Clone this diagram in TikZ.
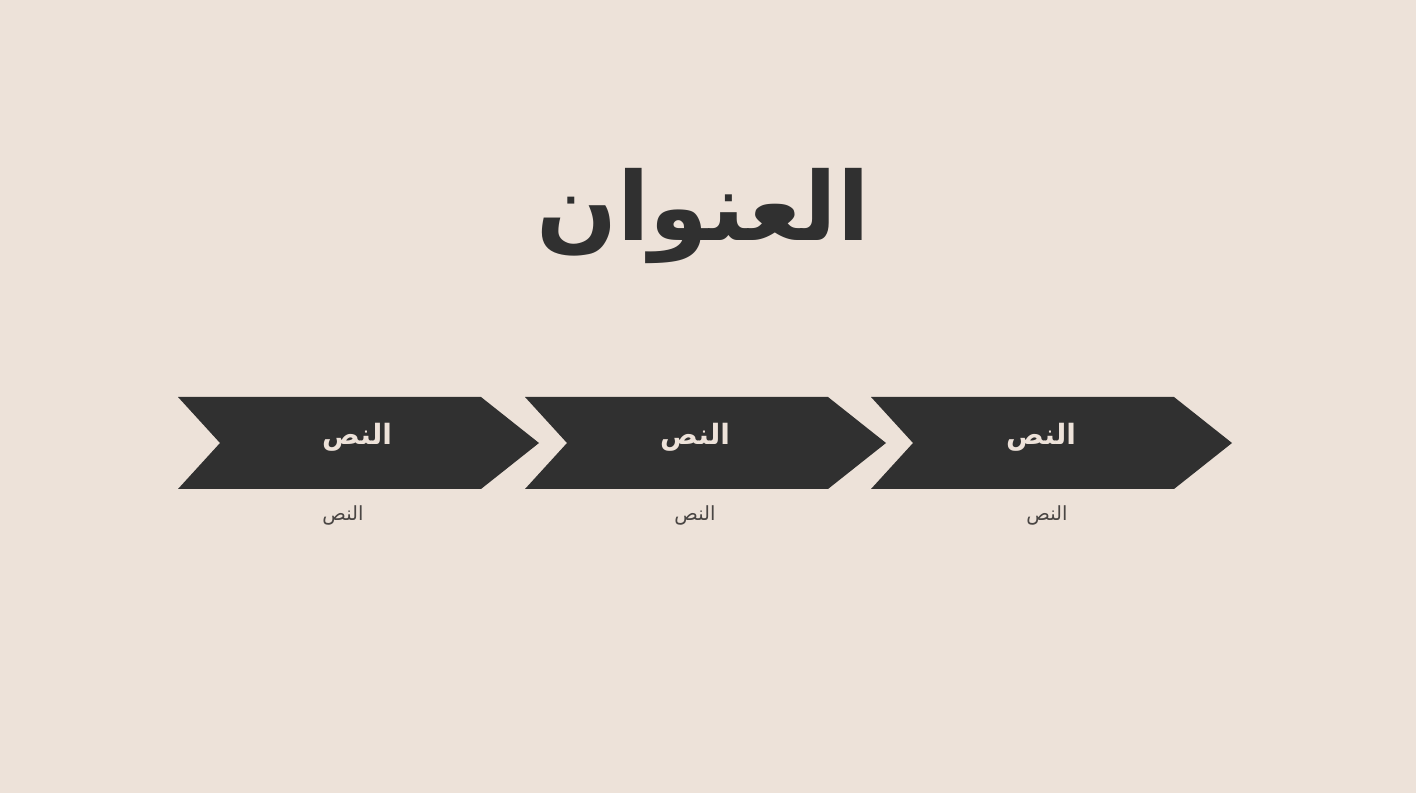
\documentclass[tikz,border=0pt]{standalone}
\usepackage{fontspec}
\TeXXeTstate=1
\newfontfamily\arabicfont[Script=Arabic]{DejaVu Sans}
\definecolor{bg}{HTML}{EDE2D9}
\definecolor{dark}{HTML}{303030}
\definecolor{subtext}{HTML}{4A4644}
\begin{document}
\begin{tikzpicture}[x=1pt,y=1pt,
  chev/.style={fill=dark,draw=none},
  headtxt/.style={text=bg,font=\arabicfont\bfseries\fontsize{28}{34}\selectfont,inner sep=0pt,anchor=base},
  subtxt/.style={text=subtext,font=\arabicfont\fontsize{19.5}{24}\selectfont,inner sep=0pt,anchor=base}]
\fill[bg] (0,0) rectangle (1416,793);
\useasboundingbox (0,0) rectangle (1416,793);
\node[text=dark,font=\arabicfont\bfseries\fontsize{95}{110}\selectfont,inner sep=0pt,anchor=base] (title) at (703,793-241) {\beginR العنوان\endR};
\foreach \i/\x/\hx/\sx in {1/178/357/343,2/525/695/695,3/871/1041/1047}{
  \fill[chev] (\x,793-397) -- (\x+303,793-397) -- (\x+361,793-443) -- (\x+303,793-489) -- (\x,793-489) -- (\x+42,793-443) -- cycle;
  \node[headtxt] (h\i) at (\hx,793-445) {\beginR النص\endR};
  \node[subtxt] (s\i) at (\sx,793-521) {\beginR النص\endR};
}
\end{tikzpicture}
\end{document}
